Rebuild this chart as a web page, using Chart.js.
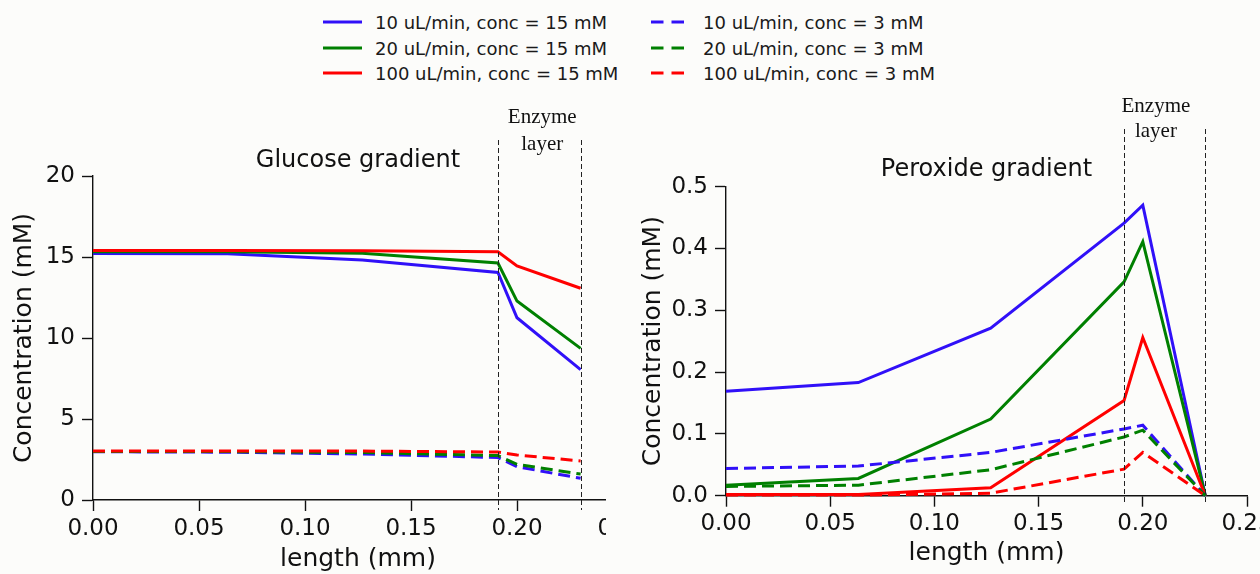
<!DOCTYPE html>
<html>
<head>
<meta charset="utf-8">
<script src="https://cdn.jsdelivr.net/npm/chart.js@4.4.1/dist/chart.umd.min.js"></script>
<style>
  html, body { margin: 0; padding: 0; background: #fcfcfa; }
  body { position: relative; width: 1260px; height: 574px; overflow: hidden; font-family: 'DejaVu Sans', sans-serif; }
  .item { position: absolute; display: flex; align-items: center; height: 22px; font-size: 18px; color: #1a1a1a; white-space: nowrap; }
  .item svg { margin-right: 13px; }
  .panel { position: absolute; top: 0; height: 574px; overflow: hidden; }
  .panel canvas { position: absolute; left: 0; top: 0; }
  #glucoseBox { left: 0; width: 606px; }
  #peroxideBox { left: 633px; width: 627px; }
</style>
</head>
<body>
<div id="legend"></div>
<div class="panel" id="glucoseBox"><canvas id="glucose" width="680" height="574"></canvas></div>
<div class="panel" id="peroxideBox"><canvas id="peroxide" width="700" height="574"></canvas></div>

<script>
// distance through the channel, mm (same grid for both panels)
const lengthMm = [0, 0.0635, 0.127, 0.191, 0.2, 0.23]

const seriesLabels = [
  '10 uL/min, conc = 15 mM',
  '20 uL/min, conc = 15 mM',
  '100 uL/min, conc = 15 mM',
  '10 uL/min, conc = 3 mM',
  '20 uL/min, conc = 3 mM',
  '100 uL/min, conc = 3 mM'
]
const seriesColors = ['#3010f8', '#008000', '#ff0000', '#3010f8', '#008000', '#ff0000']
const seriesDashed = [false, false, false, true, true, true]

// glucose, mM
const glucose10_15 = [15.22, 15.2, 14.82, 14.05, 11.25, 8.05]
const glucose20_15 = [15.33, 15.33, 15.23, 14.63, 12.28, 9.36]
const glucose100_15 = [15.4, 15.4, 15.38, 15.32, 14.45, 13.07]
const glucose10_3 = [2.98, 2.95, 2.84, 2.62, 2.06, 1.34]
const glucose20_3 = [3.0, 2.99, 2.93, 2.74, 2.2, 1.6]
const glucose100_3 = [3.03, 3.03, 3.02, 2.96, 2.78, 2.41]

// hydrogen peroxide, mM
const peroxide10_15 = [0.169, 0.183, 0.271, 0.441, 0.470, 0]
const peroxide20_15 = [0.017, 0.028, 0.124, 0.346, 0.411, 0]
const peroxide100_15 = [0.002, 0.002, 0.013, 0.154, 0.256, 0]
const peroxide10_3 = [0.044, 0.048, 0.070, 0.108, 0.114, 0]
const peroxide20_3 = [0.015, 0.017, 0.042, 0.095, 0.106, 0]
const peroxide100_3 = [0.001, 0.001, 0.004, 0.043, 0.070, 0]

// enzyme layer boundaries, mm
const enzymeLayer = [0.191, 0.23]

const FONT = 'DejaVu Sans'
const INK = '#111'
const DASH = [12, 6]

function buildLegend() {
  const legend = document.getElementById('legend')
  const cols = [323, 651]
  const rows = [22, 48, 73]
  seriesLabels.forEach((label, i) => {
    const item = document.createElement('div')
    item.className = 'item'
    item.style.left = cols[Math.floor(i / 3)] + 'px'
    item.style.top = (rows[i % 3] - 11) + 'px'
    const dash = seriesDashed[i] ? ` stroke-dasharray="${DASH[0] + 0.5} ${DASH[1] + 2}"` : ''
    item.innerHTML = `<svg width="39" height="6"><line x1="0" y1="3" x2="39" y2="3" stroke="${seriesColors[i]}" stroke-width="3"${dash}/></svg><span>${label}</span>`
    legend.appendChild(item)
  })
}

function datasets(values) {
  return values.map((ys, i) => ({
    label: seriesLabels[i],
    data: ys.map((y, j) => ({ x: lengthMm[j], y })),
    borderColor: seriesColors[i],
    borderWidth: 3,
    borderDash: seriesDashed[i] ? DASH : [],
    pointRadius: 0,
    tension: 0,
    clip: false,
    order: -i
  }))
}

// dashed boundaries of the enzyme layer plus its label
const enzymeLayerPlugin = {
  id: 'enzymeLayer',
  afterDatasetsDraw(chart, args, opts) {
    const { ctx } = chart
    const x = chart.scales.x
    ctx.save()
    ctx.strokeStyle = '#222'
    ctx.lineWidth = 1
    ctx.setLineDash([5, 3])
    enzymeLayer.forEach(v => {
      const px = Math.round(x.getPixelForValue(v)) + 0.5
      ctx.beginPath()
      ctx.moveTo(px, opts.top)
      ctx.lineTo(px, opts.bottom)
      ctx.stroke()
    })
    ctx.setLineDash([])
    ctx.fillStyle = INK
    ctx.font = '21px "Liberation Serif"'
    ctx.textAlign = 'center'
    ctx.textBaseline = 'alphabetic'
    const cx = x.getPixelForValue(opts.labelAt)
    ctx.fillText('Enzyme', cx, opts.labelY[0])
    ctx.fillText('layer', cx, opts.labelY[1])
    ctx.restore()
  }
}

const panelTitlePlugin = {
  id: 'panelTitle',
  afterDraw(chart, args, opts) {
    const { ctx, chartArea } = chart
    ctx.save()
    ctx.fillStyle = INK
    ctx.font = `24px "${FONT}"`
    ctx.textAlign = 'center'
    ctx.textBaseline = 'alphabetic'
    ctx.fillText(opts.text, (chartArea.left + chartArea.right) / 2, opts.y)
    ctx.restore()
  }
}

function makeChart(id, values, o) {
  return new Chart(document.getElementById(id), {
    type: 'line',
    data: { datasets: datasets(values) },
    plugins: [enzymeLayerPlugin, panelTitlePlugin],
    options: {
      responsive: false,
      animation: false,
      events: [],
      layout: { padding: o.padding },
      plugins: {
        legend: { display: false },
        tooltip: { enabled: false },
        enzymeLayer: o.enzyme,
        panelTitle: o.title
      },
      scales: {
        x: {
          type: 'linear',
          min: 0,
          max: 0.25,
          afterFit: s => { s.height = 74 },
          border: { color: INK, width: 1.4 },
          grid: { drawOnChartArea: false, tickLength: 11, tickColor: INK, tickWidth: 1.4 },
          ticks: {
            stepSize: 0.05,
            autoSkip: false,
            maxRotation: 0,
            padding: 4,
            color: INK,
            font: { family: FONT, size: 23 },
            callback: v => v.toFixed(2)
          },
          title: {
            display: true,
            text: 'length (mm)',
            color: INK,
            font: { family: FONT, size: 25 },
            padding: { top: 0, bottom: o.xTitlePad }
          }
        },
        y: {
          min: 0,
          max: o.yMax,
          afterFit: s => { s.width = 93 },
          border: { color: INK, width: 1.4 },
          grid: { drawOnChartArea: false, tickLength: 11, tickColor: INK, tickWidth: 1.4 },
          ticks: {
            stepSize: o.yStep,
            padding: 7,
            color: INK,
            font: { family: FONT, size: 23 },
            callback: v => v.toFixed(o.yDigits)
          },
          title: {
            display: true,
            text: 'Concentration (mM)',
            color: INK,
            font: { family: FONT, size: 25 },
            padding: { top: o.yTitlePad, bottom: 0 }
          }
        }
      }
    }
  })
}

buildLegend()

makeChart('glucose',
  [glucose10_15, glucose20_15, glucose100_15, glucose10_3, glucose20_3, glucose100_3],
  {
    padding: { left: 0, right: 57, top: 176, bottom: 0 },
    yMax: 20, yStep: 5, yDigits: 0,
    xTitlePad: 0, yTitlePad: 9.5,
    enzyme: { top: 140, bottom: 510, labelAt: 0.2119, labelY: [123, 150] },
    title: { text: 'Glucose gradient', y: 167 }
  })

makeChart('peroxide',
  [peroxide10_15, peroxide20_15, peroxide100_15, peroxide10_3, peroxide20_3, peroxide100_3],
  {
    padding: { left: 0, right: 86, top: 186.7, bottom: 4.3 },
    yMax: 0.5, yStep: 0.1, yDigits: 1,
    xTitlePad: 1.7, yTitlePad: 5,
    enzyme: { top: 129, bottom: 502, labelAt: 0.2063, labelY: [111.5, 137] },
    title: { text: 'Peroxide gradient', y: 176 }
  })
</script>
</body>
</html>
